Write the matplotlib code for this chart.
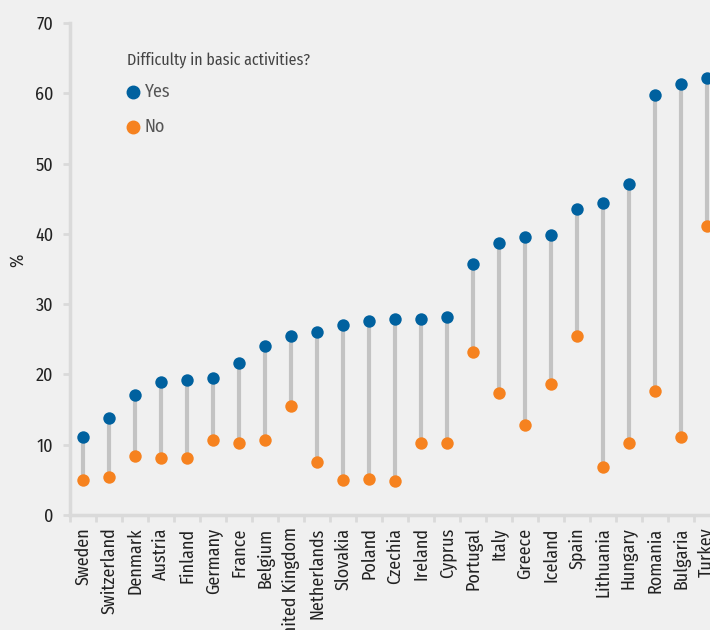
import matplotlib.pyplot as plt
import numpy as np

# Share of people at risk of poverty, by difficulty in basic activities
countries = ["Sweden", "Switzerland", "Denmark", "Austria", "Finland", "Germany",
             "France", "Belgium", "United Kingdom", "Netherlands", "Slovakia",
             "Poland", "Czechia", "Ireland", "Cyprus", "Portugal", "Italy",
             "Greece", "Iceland", "Spain", "Lithuania", "Hungary", "Romania",
             "Bulgaria", "Turkey"]
yes_vals = [11.1, 13.8, 17.1, 18.9, 19.2, 19.5, 21.6, 24.1, 25.5, 26.0, 27.1,
            27.6, 27.9, 27.9, 28.2, 35.7, 38.7, 39.5, 39.8, 43.5, 44.4, 47.1,
            59.7, 61.3, 62.2]
no_vals = [5.0, 5.4, 8.4, 8.1, 8.1, 10.6, 10.3, 10.6, 15.5, 7.6, 5.0,
           5.1, 4.9, 10.3, 10.3, 23.2, 17.4, 12.8, 18.7, 25.4, 6.8, 10.3,
           17.6, 11.1, 41.1]
yticks = [0, 10, 20, 30, 40, 50, 60, 70]

BLUE = "#00619f"
ORANGE = "#f6821f"
BG = "#f0f0f0"
AXIS = "#dadada"

plt.rcParams["font.family"] = ["Fira Sans Condensed", "DejaVu Sans"]

fig = plt.figure(figsize=(7.1, 6.3), dpi=100, facecolor=BG)
ax = fig.add_axes([70 / 710, 115 / 630, 650 / 710, 492 / 630])
ax.set_facecolor(BG)

x = np.arange(len(countries))
ax.vlines(x, no_vals, yes_vals, color="#c3c3c3", linewidth=3, zorder=1)
ax.scatter(x, yes_vals, s=80, color=BLUE, zorder=3, linewidths=0)
ax.scatter(x, no_vals, s=80, color=ORANGE, zorder=3, linewidths=0)

ax.set_xlim(-0.5, len(countries) - 0.5)
ax.set_ylim(0, 70)
ax.set_yticks(yticks)
ax.set_xticks(x)
ax.set_xticklabels(countries, rotation=90, fontsize=13, color="#222222")
ax.set_xticks(np.arange(len(countries) + 1) - 0.5, minor=True)
ax.tick_params(axis="x", which="major", length=0, pad=9)
ax.tick_params(axis="x", which="minor", length=5, width=2, color=AXIS)
ax.tick_params(axis="y", length=5, width=2, color=AXIS, labelsize=13,
               labelcolor="#222222", pad=7)

for s in ["top", "right"]:
    ax.spines[s].set_visible(False)
for s in ["left", "bottom"]:
    ax.spines[s].set_color(AXIS)
    ax.spines[s].set_linewidth(2.5)

fig.text(18 / 710, 1 - 260 / 630, "%", rotation=90, ha="center", va="center",
         fontsize=13, color="#222222")

# legend
fig.text(127 / 710, 1 - 60 / 630, "Difficulty in basic activities?", ha="left",
         va="center", fontsize=11.5, color="#444444")
fig.add_artist(plt.Line2D([133 / 710], [1 - 92 / 630], marker="o", markersize=9,
                          color=BLUE, linestyle="none", transform=fig.transFigure))
fig.add_artist(plt.Line2D([133 / 710], [1 - 127 / 630], marker="o", markersize=9,
                          color=ORANGE, linestyle="none", transform=fig.transFigure))
fig.text(145 / 710, 1 - 92 / 630, "Yes", ha="left", va="center", fontsize=13,
         color="#555555")
fig.text(145 / 710, 1 - 127 / 630, "No", ha="left", va="center", fontsize=13,
         color="#555555")

fig.savefig("out.png", dpi=100, facecolor=BG)
